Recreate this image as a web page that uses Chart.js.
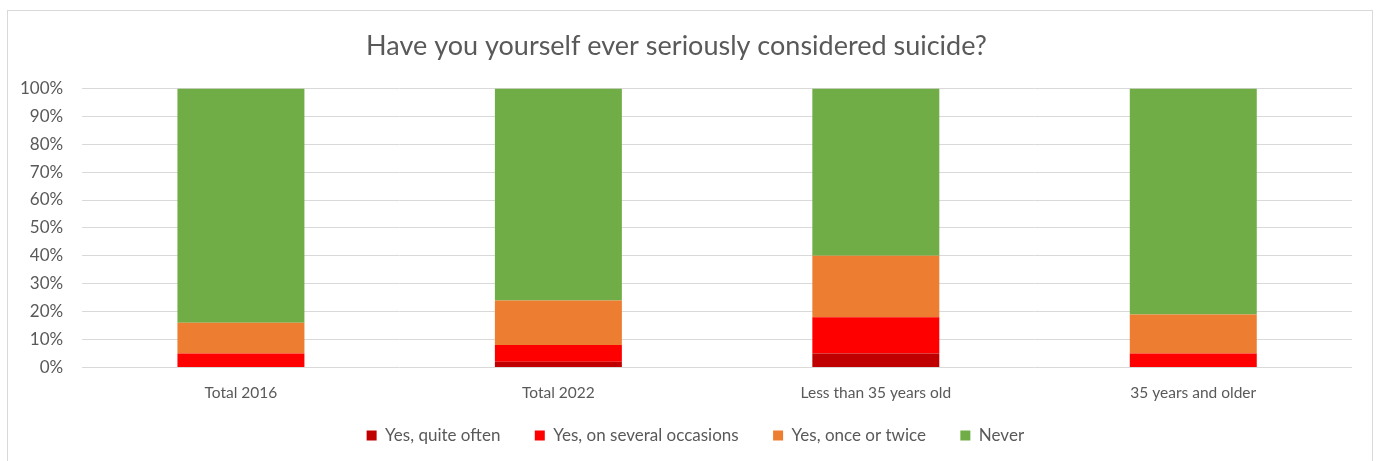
<!DOCTYPE html>
<html>
<head>
<meta charset="utf-8">
<script src="https://cdn.jsdelivr.net/npm/chart.js@4.4.0/dist/chart.umd.min.js"></script>
<style>
  html, body { margin: 0; padding: 0; background: #fff; }
  #wrap { position: relative; width: 1380px; height: 461px; }
  #frame { position: absolute; left: 7px; top: 10px; width: 1366px; height: 460px; border: 1px solid #d9d9d9; box-sizing: border-box; }
  canvas { position: absolute; left: 0; top: 0; }
</style>
</head>
<body>
<div id="wrap">
  <div id="frame"></div>
  <canvas id="chart" width="1380" height="461"></canvas>
</div>
<script>
'use strict';

var categories = ['Total 2016', 'Total 2022', 'Less than 35 years old', '35 years and older'];
var quiteOften = [0, 2, 5, 0];
var severalOccasions = [5, 6, 13, 5];
var onceOrTwice = [11, 16, 22, 14];
var never = [84, 76, 60, 81];
var yTicks = [0, 10, 20, 30, 40, 50, 60, 70, 80, 90, 100];

var grey = '#595959';
var font = 'Lato, "Open Sans", sans-serif';

var ctx = document.getElementById('chart').getContext('2d');
var chart = new Chart(ctx, {
  type: 'bar',
  data: {
    labels: categories,
    datasets: [{
      label: 'Yes, quite often',
      data: quiteOften,
      backgroundColor: '#c00000'
    }, {
      label: 'Yes, on several occasions',
      data: severalOccasions,
      backgroundColor: '#ff0000'
    }, {
      label: 'Yes, once or twice',
      data: onceOrTwice,
      backgroundColor: '#ed7d31'
    }, {
      label: 'Never',
      data: never,
      backgroundColor: '#70ad47'
    }]
  },
  options: {
    responsive: false,
    animation: false,
    layout: { padding: { left: 1, right: 28, top: 30, bottom: 7 } },
    datasets: { bar: { categoryPercentage: 1, barPercentage: 0.4 } },
    scales: {
      x: {
        stacked: true,
        grid: { display: false },
        border: { display: false },
        ticks: { color: grey, font: { family: font, size: 15.5 }, padding: 8 }
      },
      y: {
        stacked: true,
        min: 0,
        max: 100,
        afterBuildTicks: function (axis) {
          axis.ticks = yTicks.map(function (v) { return { value: v }; });
        },
        grid: { color: '#d9d9d9', drawTicks: false },
        border: { display: false },
        ticks: {
          color: grey,
          font: { family: font, size: 17 },
          padding: 19,
          callback: function (v) { return v + '%'; }
        }
      }
    },
    plugins: {
      title: {
        display: true,
        text: 'Have you yourself ever seriously considered suicide?',
        color: grey,
        font: { family: font, size: 27, weight: 'normal' },
        padding: { top: 0, bottom: 26 }
      },
      legend: {
        position: 'bottom',
        fullSize: false,
        labels: {
          color: grey,
          font: { family: font, size: 17 },
          boxWidth: 10,
          boxHeight: 10,
          padding: 17,
          // padding is shared with the vertical gap, so widen items with spaces
          generateLabels: function (c) {
            var items = Chart.defaults.plugins.legend.labels.generateLabels(c);
            items.forEach(function (it, i) {
              if (i < items.length - 1) it.text = it.text + '    ';
              else it.text = it.text + '          ';
            });
            return items;
          }
        }
      },
      tooltip: { enabled: false }
    }
  }
});
</script>
</body>
</html>
